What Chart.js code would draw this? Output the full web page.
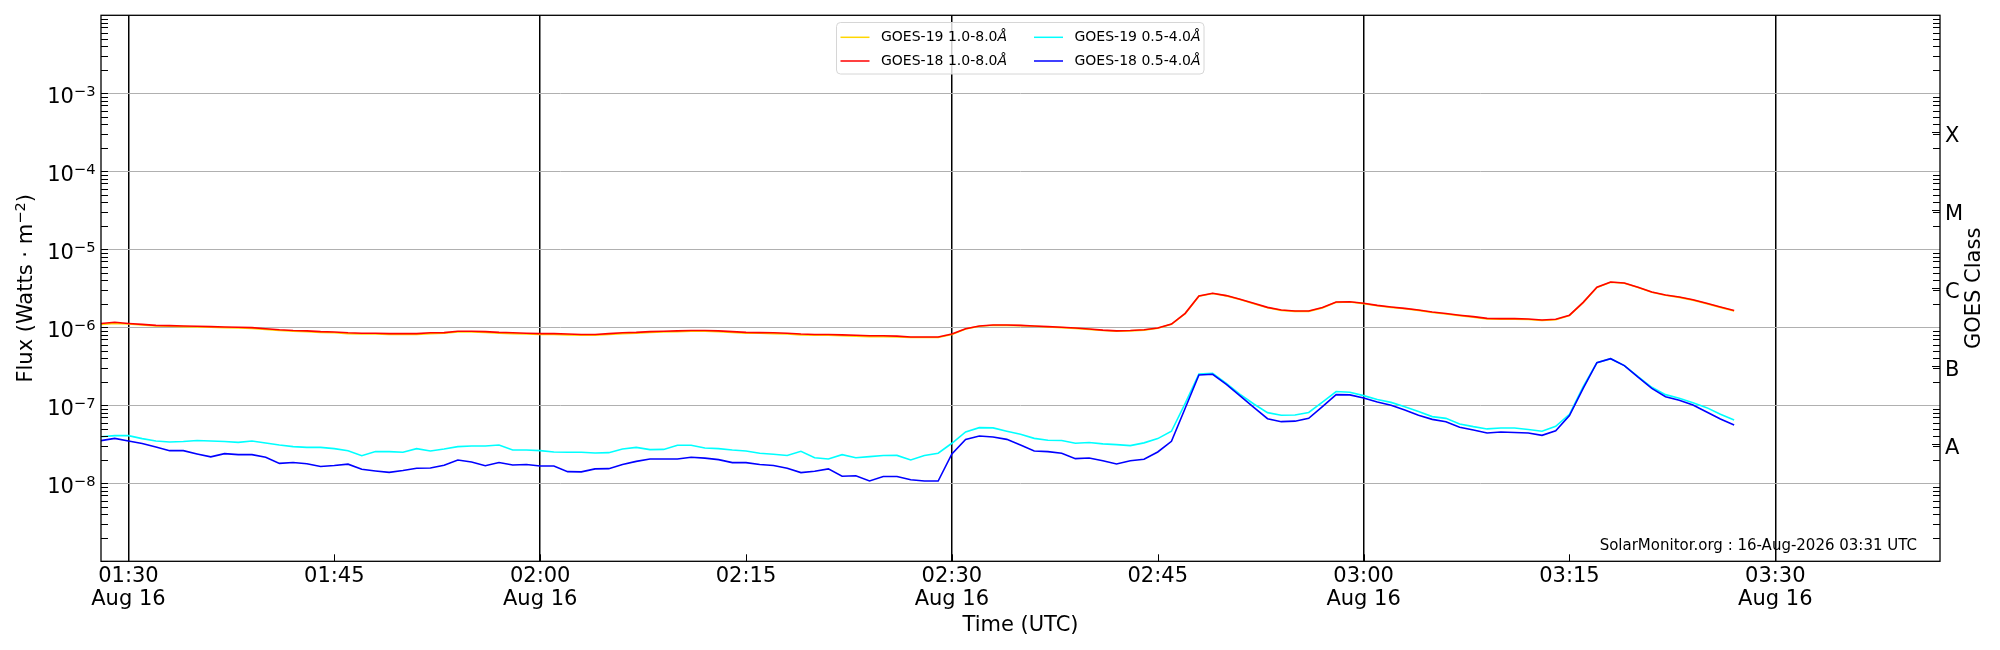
<!DOCTYPE html>
<html>
<head>
<meta charset="utf-8">
<script src="https://cdn.jsdelivr.net/npm/chart.js@4.4.1/dist/chart.umd.min.js"></script>
<style>
  html, body { margin: 0; padding: 0; background: #fff; }
  canvas { display: block; }
</style>
</head>
<body>
<canvas id="goes" width="2000" height="650"></canvas>
<script>
// sample times (UTC, 1-minute cadence)
const times = [
  "01:28","01:29","01:30","01:31","01:32","01:33","01:34","01:35","01:36","01:37","01:38","01:39","01:40","01:41","01:42","01:43","01:44","01:45","01:46","01:47","01:48","01:49","01:50","01:51","01:52","01:53","01:54","01:55","01:56","01:57","01:58","01:59",
  "02:00","02:01","02:02","02:03","02:04","02:05","02:06","02:07","02:08","02:09","02:10","02:11","02:12","02:13","02:14","02:15","02:16","02:17","02:18","02:19","02:20","02:21","02:22","02:23","02:24","02:25","02:26","02:27","02:28","02:29",
  "02:30","02:31","02:32","02:33","02:34","02:35","02:36","02:37","02:38","02:39","02:40","02:41","02:42","02:43","02:44","02:45","02:46","02:47","02:48","02:49","02:50","02:51","02:52","02:53","02:54","02:55","02:56","02:57","02:58","02:59",
  "03:00","03:01","03:02","03:03","03:04","03:05","03:06","03:07","03:08","03:09","03:10","03:11","03:12","03:13","03:14","03:15","03:16","03:17","03:18","03:19","03:20","03:21","03:22","03:23","03:24","03:25","03:26","03:27"
];

// 1.0-8.0 A channel, units of 1e-6 W/m^2
const goes19Long = [
  1.09,1.12,1.10,1.07,1.04,1.03,1.02,1.01,1.00,0.99,0.98,0.97,0.94,0.91,0.89,0.88,0.86,0.85,0.83,0.82,0.82,0.81,0.81,0.81,0.83,
  0.84,0.87,0.87,0.86,0.84,0.83,0.82,0.81,0.81,0.80,0.79,0.79,0.81,0.83,0.84,0.86,0.87,0.88,0.89,0.89,0.88,0.86,0.84,0.84,0.83,
  0.82,0.80,0.79,0.79,0.78,0.77,0.76,0.76,0.75,0.74,0.74,0.74,0.81,0.95,1.03,1.06,1.06,1.05,1.03,1.01,0.99,0.97,0.94,0.91,
  0.89,0.90,0.92,0.97,1.09,1.50,2.50,2.71,2.53,2.27,2.01,1.78,1.65,1.60,1.60,1.77,2.09,2.11,2.01,1.89,1.80,1.73,1.65,1.55,
  1.48,1.41,1.35,1.28,1.27,1.27,1.26,1.22,1.25,1.41,2.07,3.23,3.78,3.67,3.23,2.81,2.57,2.42,2.23,2.01,1.80,1.62
];
const goes18Long = [
  1.12,1.16,1.12,1.09,1.06,1.05,1.04,1.03,1.02,1.01,1.00,0.99,0.96,0.93,0.91,0.90,0.88,0.87,0.85,0.84,0.84,0.83,0.83,0.83,0.85,
  0.855,0.89,0.89,0.88,0.86,0.85,0.84,0.83,0.83,0.82,0.81,0.81,0.83,0.85,0.86,0.88,0.89,0.90,0.91,0.91,0.90,0.88,0.86,0.855,0.85,
  0.84,0.82,0.81,0.81,0.80,0.79,0.78,0.78,0.77,0.75,0.75,0.75,0.82,0.96,1.04,1.07,1.07,1.06,1.04,1.02,1.00,0.98,0.95,0.92,
  0.90,0.91,0.93,0.98,1.10,1.51,2.52,2.73,2.55,2.29,2.03,1.80,1.67,1.62,1.62,1.79,2.11,2.13,2.03,1.91,1.82,1.75,1.67,1.57,
  1.50,1.43,1.37,1.30,1.29,1.29,1.28,1.24,1.27,1.43,2.09,3.26,3.81,3.70,3.26,2.84,2.60,2.45,2.26,2.03,1.82,1.64
];
// 0.5-4.0 A channel, units of 1e-8 W/m^2
const goes19Short = [
  3.96,4.08,4.08,3.74,3.49,3.39,3.43,3.54,3.49,3.43,3.35,3.49,3.29,3.10,2.95,2.89,2.89,2.78,2.62,2.26,2.55,2.55,2.50,2.78,2.60,
  2.75,2.95,3.01,3.01,3.10,2.67,2.67,2.62,2.52,2.50,2.50,2.45,2.47,2.75,2.89,2.70,2.72,3.07,3.07,2.83,2.78,2.67,2.60,2.43,2.36,
  2.27,2.57,2.13,2.05,2.33,2.13,2.20,2.27,2.28,1.99,2.27,2.43,3.26,4.55,5.17,5.13,4.65,4.25,3.77,3.56,3.53,3.26,3.33,3.20,
  3.13,3.04,3.30,3.74,4.65,10.6,25.2,25.7,19.1,13.8,10.4,8.05,7.44,7.50,8.10,11.0,15.0,14.7,13.3,11.9,10.9,9.60,8.30,7.16,
  6.80,5.77,5.33,4.98,5.12,5.12,4.89,4.65,5.38,7.68,17.3,35.2,39.6,32.3,23.3,17.0,13.7,12.3,10.8,9.33,7.68,6.49
];
const goes18Short = [
  3.52,3.77,3.49,3.23,2.92,2.62,2.62,2.38,2.18,2.40,2.33,2.33,2.16,1.80,1.85,1.78,1.64,1.69,1.76,1.51,1.44,1.38,1.46,1.56,1.57,
  1.70,1.99,1.88,1.68,1.85,1.72,1.74,1.67,1.67,1.41,1.40,1.53,1.54,1.74,1.91,2.05,2.05,2.05,2.16,2.10,2.01,1.84,1.84,1.74,1.69,
  1.56,1.37,1.43,1.53,1.23,1.25,1.07,1.22,1.22,1.11,1.07,1.07,2.38,3.66,4.04,3.93,3.66,3.10,2.60,2.55,2.43,2.07,2.11,1.95,
  1.77,1.95,2.03,2.52,3.45,9.16,24.5,25.0,18.6,13.2,9.42,6.74,6.17,6.26,6.80,9.60,13.7,13.6,12.4,11.0,10.0,8.71,7.44,6.60,
  6.17,5.23,4.83,4.42,4.54,4.49,4.42,4.12,4.70,7.38,16.5,35.2,39.6,32.3,22.9,16.5,12.9,11.6,10.1,8.20,6.68,5.60
];

const xRange = ["01:28", "03:42"];
const xTickLabels = ["01:30","01:45","02:00","02:15","02:30","02:45","03:00","03:15","03:30"];
const xTickDates  = ["Aug 16","","Aug 16","","Aug 16","","Aug 16","","Aug 16"];
const yTickExps   = [-8, -7, -6, -5, -4, -3];
const classExps   = [-7.5, -6.5, -5.5, -4.5, -3.5];
const classLabels = ["A", "B", "C", "M", "X"];

const toMin = t => { const [h, m] = t.split(":"); return +h * 60 + +m; };
const series = (vals, unit) => vals.map((v, i) => ({ x: toMin(times[i]), y: v * unit }));

const FONT = "DejaVu Sans";
Chart.defaults.font.family = FONT;
Chart.defaults.color = "#000";

const PLOT = { left: 101, right: 1940, top: 15.3, bottom: 561.3 };

// text with a raised exponent, like matplotlib mathtext
function supWidth(ctx, base, sup) {
  ctx.font = "21px " + FONT;
  const a = ctx.measureText(base).width;
  ctx.font = "14.7px " + FONT;
  return a + ctx.measureText(sup).width;
}
function drawSup(ctx, base, sup, tail, x, y) {
  ctx.font = "21px " + FONT;
  ctx.fillText(base, x, y);
  x += ctx.measureText(base).width;
  ctx.font = "14.7px " + FONT;
  ctx.fillText(sup, x, y - 6.7);
  x += ctx.measureText(sup).width;
  if (tail) { ctx.font = "21px " + FONT; ctx.fillText(tail, x, y); }
}

// inward ticks, frame, axis texts, legend, watermark
const decorations = {
  id: "decorations",
  afterDatasetsDraw(chart) {
    const { ctx, chartArea: a, scales } = chart;
    const y = scales.y, x = scales.x;
    ctx.save();
    ctx.strokeStyle = "#000";
    ctx.lineWidth = 1;
    ctx.beginPath();
    for (let e = -9; e <= -3; e++) {
      for (let m = 1; m <= 9; m++) {
        const py = Math.round(y.getPixelForValue(m * Math.pow(10, e))) + 0.5;
        ctx.moveTo(a.left, py); ctx.lineTo(a.left + 7, py);
        if (m > 1) { ctx.moveTo(a.right, py); ctx.lineTo(a.right - 7, py); }
      }
    }
    classExps.forEach(e => {
      const py = Math.round(y.getPixelForValue(Math.pow(10, e))) + 0.5;
      ctx.moveTo(a.right, py); ctx.lineTo(a.right - 8, py);
    });
    xTickLabels.forEach(t => {
      const px = Math.round(x.getPixelForValue(toMin(t))) + 0.5;
      ctx.moveTo(px, a.bottom); ctx.lineTo(px, a.bottom - 7);
    });
    ctx.stroke();
    ctx.lineWidth = 1.3;
    ctx.strokeRect(a.left, a.top, a.right - a.left, a.bottom - a.top);

    ctx.fillStyle = "#000";
    ctx.textBaseline = "alphabetic";
    ctx.textAlign = "left";

    // y tick labels 10^n
    yTickExps.forEach(e => {
      const py = y.getPixelForValue(Math.pow(10, e));
      const sup = "\u2212" + Math.abs(e);
      const w = supWidth(ctx, "10", sup);
      drawSup(ctx, "10", sup, "", a.left - 5.5 - w, py + 9.4);
    });

    // y axis title
    ctx.save();
    ctx.translate(32, (a.top + a.bottom) / 2);
    ctx.rotate(-Math.PI / 2);
    const tw = supWidth(ctx, "Flux (Watts · m", "\u22122") + (ctx.font = "21px " + FONT, ctx.measureText(")").width);
    drawSup(ctx, "Flux (Watts · m", "\u22122", ")", -tw / 2, 0);
    ctx.restore();

    // watermark
    ctx.font = "15px " + FONT;
    ctx.textAlign = "right";
    ctx.fillText("SolarMonitor.org : 16-Aug-2026 03:31 UTC", 1917, 550);

    // right axis title
    ctx.save();
    ctx.translate(1975, (a.top + a.bottom) / 2);
    ctx.rotate(-Math.PI / 2);
    ctx.font = "21px " + FONT;
    ctx.textAlign = "center";
    ctx.textBaseline = "middle";
    ctx.fillText("GOES Class", 0, 0);
    ctx.restore();

    // legend (two columns, matplotlib style)
    const ds = chart.data.datasets;
    const cols = [[0, 1], [2, 3]];
    const bx = 836.5, by = 22.5, bw = 367.5, bh = 51.5, r = 4;
    ctx.beginPath();
    ctx.moveTo(bx + r, by);
    ctx.arcTo(bx + bw, by, bx + bw, by + bh, r);
    ctx.arcTo(bx + bw, by + bh, bx, by + bh, r);
    ctx.arcTo(bx, by + bh, bx, by, r);
    ctx.arcTo(bx, by, bx + bw, by, r);
    ctx.closePath();
    ctx.fillStyle = "rgba(255,255,255,0.8)";
    ctx.fill();
    ctx.strokeStyle = "#d6d6d6";
    ctx.lineWidth = 1;
    ctx.stroke();
    const colX = [840.5, 1034];
    const rowY = [37.3, 61];
    cols.forEach((col, ci) => {
      col.forEach((di, ri) => {
        const d = ds[di];
        const ly = rowY[ri];
        ctx.strokeStyle = d.borderColor;
        ctx.lineWidth = 1.5;
        ctx.beginPath();
        ctx.moveTo(colX[ci], ly); ctx.lineTo(colX[ci] + 29, ly);
        ctx.stroke();
        const label = d.label.replace(/Å$/, "");
        ctx.fillStyle = "#000";
        ctx.textAlign = "left";
        ctx.textBaseline = "middle";
        ctx.font = "14px " + FONT;
        ctx.fillText(label, colX[ci] + 40.5, ly);
        const w = ctx.measureText(label).width;
        ctx.font = "italic 14px " + FONT;
        ctx.fillText("Å", colX[ci] + 40.5 + w, ly);
      });
    });
    ctx.restore();
  }
};

new Chart(document.getElementById("goes"), {
  type: "line",
  data: {
    datasets: [
      { label: "GOES-19 1.0-8.0Å", data: series(goes19Long, 1e-6), borderColor: "#ffd700", order: 4 },
      { label: "GOES-18 1.0-8.0Å", data: series(goes18Long, 1e-6), borderColor: "#ff0000", order: 3 },
      { label: "GOES-19 0.5-4.0Å", data: series(goes19Short, 1e-8), borderColor: "#00ffff", order: 2 },
      { label: "GOES-18 0.5-4.0Å", data: series(goes18Short, 1e-8), borderColor: "#0000ff", order: 1 },
    ],
  },
  options: {
    responsive: false,
    devicePixelRatio: 1,
    animation: false,
    events: [],
    elements: {
      point: { radius: 0 },
      line: { borderWidth: 1.6, tension: 0, fill: false },
    },
    layout: { padding: { top: PLOT.top, left: 0, right: 0, bottom: 0 } },
    plugins: { legend: { display: false }, tooltip: { enabled: false } },
    scales: {
      x: {
        type: "linear",
        position: "bottom",
        min: toMin(xRange[0]),
        max: toMin(xRange[1]),
        afterBuildTicks: s => { s.ticks = xTickLabels.map(t => ({ value: toMin(t) })); },
        afterFit: s => { s.height = 650 - PLOT.bottom; s.paddingLeft = 0; s.paddingRight = 0; },
        ticks: {
          autoSkip: false,
          maxRotation: 0,
          padding: 3.5,
          font: { size: 21, lineHeight: 1.1 },
          callback: (v, i) => xTickDates[i] ? [xTickLabels[i], xTickDates[i]] : xTickLabels[i],
        },
        grid: {
          drawTicks: false,
          lineWidth: 1.5,
          color: c => (c.tick && c.tick.value % 30 === 0) ? "#000" : "rgba(0,0,0,0)",
        },
        border: { display: false },
        title: { display: true, text: "Time (UTC)", font: { size: 21, lineHeight: 1.2 }, padding: { top: 0, bottom: 12 } },
      },
      y: {
        type: "logarithmic",
        position: "left",
        min: 1e-9,
        max: 1e-2,
        afterBuildTicks: s => { s.ticks = yTickExps.map(e => ({ value: Math.pow(10, e) })); },
        afterFit: s => { s.width = PLOT.left; s.paddingTop = 0; s.paddingBottom = 0; },
        ticks: { display: false },
        grid: { drawTicks: false, color: "#b0b0b0", lineWidth: 1 },
        border: { display: false },
      },
      yClass: {
        type: "logarithmic",
        position: "right",
        min: 1e-9,
        max: 1e-2,
        afterBuildTicks: s => { s.ticks = classExps.map(e => ({ value: Math.pow(10, e) })); },
        afterFit: s => { s.width = 2000 - PLOT.right; s.paddingTop = 0; s.paddingBottom = 0; },
        ticks: {
          autoSkip: false,
          padding: 5,
          labelOffset: 4.5,
          font: { size: 21 },
          callback: (v, i) => classLabels[i],
        },
        grid: { display: false, drawTicks: false },
        border: { display: false },
      },
    },
  },
  plugins: [decorations],
});
</script>
</body>
</html>
